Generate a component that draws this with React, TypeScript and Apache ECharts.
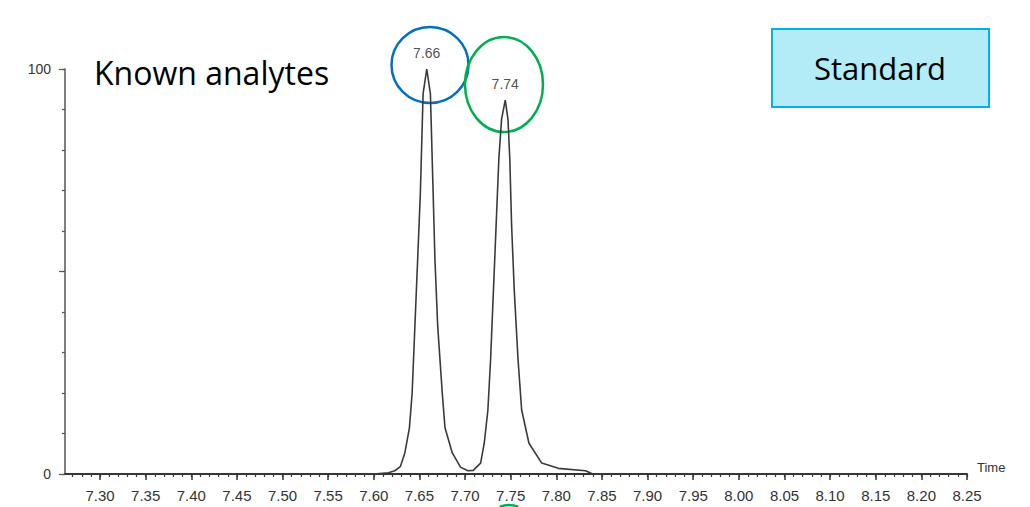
import React, { useEffect, useRef } from "react";
import * as echarts from "echarts";

// Chromatogram trace (retention time in minutes, relative intensity %)
const times = [7.262, 7.6, 7.616, 7.623, 7.629, 7.634, 7.639, 7.642, 7.645, 7.648, 7.651, 7.654, 7.658, 7.662, 7.665, 7.667, 7.67, 7.675, 7.678, 7.686, 7.695, 7.703, 7.709, 7.717, 7.721, 7.725, 7.728, 7.731, 7.734, 7.737, 7.74, 7.744, 7.747, 7.749, 7.751, 7.754, 7.758, 7.762, 7.77, 7.784, 7.802, 7.832, 7.84, 8.25];
const intensities = [0, 0, 0.3, 0.8, 1.8, 5.2, 11.4, 20, 36.5, 52.8, 69.4, 93.9, 100, 93.9, 69.4, 52.8, 36.5, 20, 11.4, 5.2, 1.7, 0.8, 0.9, 2.7, 7.6, 15.8, 28.4, 44.9, 61.3, 77.8, 87.6, 92.3, 87.6, 77.8, 61.3, 44.9, 28.4, 15.8, 7.6, 2.7, 1.4, 0.8, 0, 0];

// Peak apex labels
const peakTimes = [7.658, 7.744];
const peakHeights = [100, 92.3];
const peakLabels = ["7.66", "7.74"];

// Axis ticks
const xTickLabels = [7.3, 7.35, 7.4, 7.45, 7.5, 7.55, 7.6, 7.65, 7.7, 7.75, 7.8, 7.85, 7.9, 7.95, 8.0, 8.05, 8.1, 8.15, 8.2, 8.25];
const yTickLabels = [0, 100];
const X_MIN = 7.2616;
const X_MAX = 8.25;

const minorX: number[] = [];
for (let i = 727; i <= 825; i++) minorX.push(i / 100);

export default function App() {
  const ref = useRef<HTMLDivElement>(null);
  useEffect(() => {
    if (!ref.current) return;
    const chart = echarts.init(ref.current, undefined, { renderer: "svg" });
    const axisColor = "#333";
    const labelFont = "Liberation Sans";
    chart.setOption({
      animation: false,
      backgroundColor: "#ffffff",
      grid: { left: 65, right: 63, top: 69, bottom: 33, containLabel: false },
      xAxis: [
        {
          type: "value",
          min: X_MIN,
          max: X_MAX,
          name: "Time",
          nameLocation: "end",
          nameGap: 10,
          nameTextStyle: { color: "#333", fontSize: 13, fontFamily: labelFont, verticalAlign: "bottom" },
          axisLine: { show: true, lineStyle: { color: axisColor, width: 2 } },
          axisTick: { show: true, customValues: xTickLabels, length: 6, lineStyle: { color: axisColor, width: 1.5 } },
          axisLabel: {
            show: true,
            customValues: xTickLabels,
            formatter: (v: number) => v.toFixed(2),
            margin: 14,
            color: "#333",
            fontSize: 15,
            fontFamily: labelFont,
          },
          splitLine: { show: false },
        },
        {
          type: "value",
          min: X_MIN,
          max: X_MAX,
          position: "bottom",
          axisLine: { show: false },
          axisTick: { show: true, customValues: minorX, length: 3, lineStyle: { color: axisColor, width: 1.2 } },
          axisLabel: { show: false },
          splitLine: { show: false },
        },
      ],
      yAxis: [
        {
          type: "value",
          min: 0,
          max: 100,
          interval: 10,
          axisLine: { show: true, lineStyle: { color: "#555", width: 1.5 } },
          axisTick: { show: true, length: 3, lineStyle: { color: "#555", width: 1.2 } },
          axisLabel: {
            show: true,
            customValues: yTickLabels,
            margin: 14,
            color: "#333",
            fontSize: 14,
            fontFamily: labelFont,
          },
          splitLine: { show: false },
        },
        {
          type: "value",
          min: 0,
          max: 100,
          position: "left",
          axisLine: { show: false },
          axisTick: { show: true, customValues: [0, 50, 100], length: 6, lineStyle: { color: "#555", width: 1.2 } },
          axisLabel: { show: false },
          splitLine: { show: false },
        },
      ],
      series: [
        {
          type: "line",
          xAxisIndex: 0,
          yAxisIndex: 0,
          data: times.map((t, i) => [t, intensities[i]]),
          showSymbol: false,
          symbol: "none",
          lineStyle: { color: "#3a3a3a", width: 1.6 },
          z: 3,
        },
        {
          type: "scatter",
          xAxisIndex: 0,
          yAxisIndex: 0,
          data: peakTimes.map((t, i) => ({ value: [t, peakHeights[i]], name: peakLabels[i] })),
          symbolSize: 0,
          silent: true,
          label: {
            show: true,
            position: "top",
            distance: 9,
            formatter: (p: any) => p.name,
            color: "#222",
            fontSize: 14,
            fontFamily: labelFont,
          },
        },
      ],
      graphic: [
        {
          type: "text",
          left: 94,
          top: 56,
          style: { text: "Known analytes", fill: "#000", font: "32px 'Open Sans'" },
        },
        {
          type: "ellipse",
          shape: { cx: 430, cy: 65, rx: 38.5, ry: 38 },
          style: { fill: "none", stroke: "#0070C0", lineWidth: 2.5 },
        },
        {
          type: "ellipse",
          shape: { cx: 504, cy: 84.5, rx: 39, ry: 47.5 },
          style: { fill: "none", stroke: "#00B050", lineWidth: 2.5 },
        },
        {
          type: "arc",
          shape: { cx: 509, cy: 530, r: 25, startAngle: Math.PI * 1.38, endAngle: Math.PI * 1.62 },
          style: { fill: "none", stroke: "#00B050", lineWidth: 2.5 },
        },
        {
          type: "rect",
          shape: { x: 772, y: 29, width: 217, height: 78 },
          style: { fill: "#B3ECF7", stroke: "#00B0F0", lineWidth: 2 },
        },
        {
          type: "text",
          x: 880,
          y: 68,
          style: { text: "Standard", fill: "#000", font: "31px 'Open Sans'", align: "center", verticalAlign: "middle" },
        },
      ],
    });
    return () => chart.dispose();
  }, []);
  return <div ref={ref} style={{ position: "fixed", left: 0, top: 0, width: 1030, height: 507 }} />;
}
